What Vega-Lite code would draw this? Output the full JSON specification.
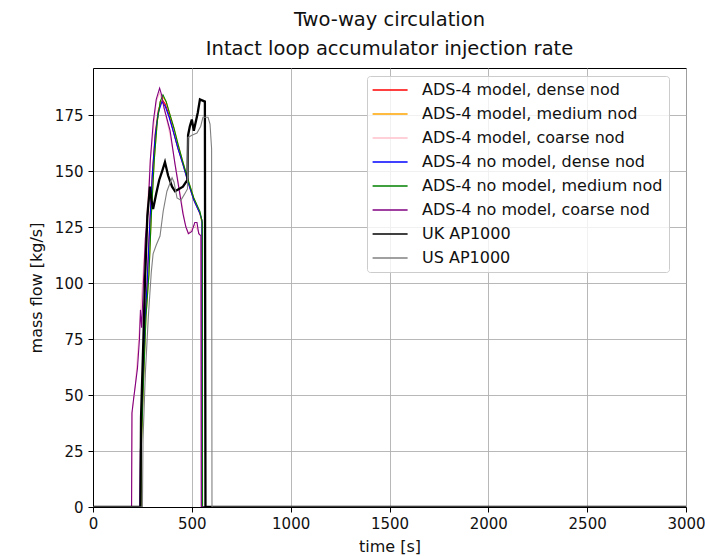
{
  "$schema": "https://vega.github.io/schema/vega-lite/v6.json",
  "autosize": "none",
  "width": 593,
  "height": 439,
  "padding": {"left": 93, "top": 68, "right": 19, "bottom": 49},
  "background": "white",
  "config": {
    "font": "DejaVu Sans",
    "view": {"stroke": "black", "strokeWidth": 1},
    "axis": {"labelFont": "DejaVu Sans", "titleFont": "DejaVu Sans", "labelFontSize": 15, "titleFontSize": 16, "titleFontWeight": "normal", "labelColor": "#111111", "titleColor": "#111111", "domainColor": "black", "tickColor": "black", "tickSize": 5, "gridColor": "#b0b0b0", "gridWidth": 0.9}
  },
  "title": {"text": ["Two-way circulation", "Intact loop accumulator injection rate"], "fontSize": 19.5, "fontWeight": "normal", "font": "DejaVu Sans", "lineHeight": 29, "offset": 9, "anchor": "middle", "color": "#111111"},
  "data": {"values": [
    {"series": "ADS-4 model, dense nod", "time": 0, "flow": 0},
    {"series": "ADS-4 model, dense nod", "time": 238, "flow": 0},
    {"series": "ADS-4 model, dense nod", "time": 240, "flow": 25},
    {"series": "ADS-4 model, dense nod", "time": 250, "flow": 50},
    {"series": "ADS-4 model, dense nod", "time": 262, "flow": 80},
    {"series": "ADS-4 model, dense nod", "time": 273, "flow": 99},
    {"series": "ADS-4 model, dense nod", "time": 285, "flow": 123},
    {"series": "ADS-4 model, dense nod", "time": 300, "flow": 149},
    {"series": "ADS-4 model, dense nod", "time": 315, "flow": 167},
    {"series": "ADS-4 model, dense nod", "time": 330, "flow": 177},
    {"series": "ADS-4 model, dense nod", "time": 349, "flow": 182},
    {"series": "ADS-4 model, dense nod", "time": 365, "flow": 180},
    {"series": "ADS-4 model, dense nod", "time": 385, "flow": 175},
    {"series": "ADS-4 model, dense nod", "time": 405, "flow": 168},
    {"series": "ADS-4 model, dense nod", "time": 430, "flow": 160},
    {"series": "ADS-4 model, dense nod", "time": 455, "flow": 153},
    {"series": "ADS-4 model, dense nod", "time": 481, "flow": 145},
    {"series": "ADS-4 model, dense nod", "time": 510, "flow": 137},
    {"series": "ADS-4 model, dense nod", "time": 541, "flow": 131},
    {"series": "ADS-4 model, dense nod", "time": 551, "flow": 128},
    {"series": "ADS-4 model, dense nod", "time": 552, "flow": 0},
    {"series": "ADS-4 model, dense nod", "time": 3000, "flow": 0},

    {"series": "ADS-4 model, medium nod", "time": 0, "flow": 0},
    {"series": "ADS-4 model, medium nod", "time": 242, "flow": 0},
    {"series": "ADS-4 model, medium nod", "time": 244, "flow": 25},
    {"series": "ADS-4 model, medium nod", "time": 255, "flow": 55},
    {"series": "ADS-4 model, medium nod", "time": 268, "flow": 85},
    {"series": "ADS-4 model, medium nod", "time": 283, "flow": 104},
    {"series": "ADS-4 model, medium nod", "time": 295, "flow": 130},
    {"series": "ADS-4 model, medium nod", "time": 310, "flow": 155},
    {"series": "ADS-4 model, medium nod", "time": 325, "flow": 172},
    {"series": "ADS-4 model, medium nod", "time": 340, "flow": 181},
    {"series": "ADS-4 model, medium nod", "time": 354, "flow": 183},
    {"series": "ADS-4 model, medium nod", "time": 370, "flow": 181},
    {"series": "ADS-4 model, medium nod", "time": 390, "flow": 175},
    {"series": "ADS-4 model, medium nod", "time": 410, "flow": 169},
    {"series": "ADS-4 model, medium nod", "time": 430, "flow": 162},
    {"series": "ADS-4 model, medium nod", "time": 455, "flow": 154},
    {"series": "ADS-4 model, medium nod", "time": 481, "flow": 146},
    {"series": "ADS-4 model, medium nod", "time": 510, "flow": 138},
    {"series": "ADS-4 model, medium nod", "time": 541, "flow": 131},
    {"series": "ADS-4 model, medium nod", "time": 553, "flow": 126},
    {"series": "ADS-4 model, medium nod", "time": 554, "flow": 0},
    {"series": "ADS-4 model, medium nod", "time": 3000, "flow": 0},

    {"series": "ADS-4 model, coarse nod", "time": 0, "flow": 0},
    {"series": "ADS-4 model, coarse nod", "time": 196, "flow": 0},
    {"series": "ADS-4 model, coarse nod", "time": 198, "flow": 42},
    {"series": "ADS-4 model, coarse nod", "time": 215, "flow": 55},
    {"series": "ADS-4 model, coarse nod", "time": 240, "flow": 86},
    {"series": "ADS-4 model, coarse nod", "time": 265, "flow": 120},
    {"series": "ADS-4 model, coarse nod", "time": 290, "flow": 155},
    {"series": "ADS-4 model, coarse nod", "time": 320, "flow": 181},
    {"series": "ADS-4 model, coarse nod", "time": 337, "flow": 185},
    {"series": "ADS-4 model, coarse nod", "time": 360, "flow": 178},
    {"series": "ADS-4 model, coarse nod", "time": 390, "flow": 166},
    {"series": "ADS-4 model, coarse nod", "time": 430, "flow": 146},
    {"series": "ADS-4 model, coarse nod", "time": 465, "flow": 127},
    {"series": "ADS-4 model, coarse nod", "time": 481, "flow": 122},
    {"series": "ADS-4 model, coarse nod", "time": 515, "flow": 126},
    {"series": "ADS-4 model, coarse nod", "time": 545, "flow": 121},
    {"series": "ADS-4 model, coarse nod", "time": 547, "flow": 0},
    {"series": "ADS-4 model, coarse nod", "time": 3000, "flow": 0},

    {"series": "ADS-4 no model, dense nod", "time": 0, "flow": 0},
    {"series": "ADS-4 no model, dense nod", "time": 238, "flow": 0},
    {"series": "ADS-4 no model, dense nod", "time": 240, "flow": 25},
    {"series": "ADS-4 no model, dense nod", "time": 250, "flow": 50},
    {"series": "ADS-4 no model, dense nod", "time": 262, "flow": 80},
    {"series": "ADS-4 no model, dense nod", "time": 273, "flow": 98},
    {"series": "ADS-4 no model, dense nod", "time": 285, "flow": 122},
    {"series": "ADS-4 no model, dense nod", "time": 300, "flow": 148},
    {"series": "ADS-4 no model, dense nod", "time": 315, "flow": 166},
    {"series": "ADS-4 no model, dense nod", "time": 330, "flow": 176},
    {"series": "ADS-4 no model, dense nod", "time": 349, "flow": 181},
    {"series": "ADS-4 no model, dense nod", "time": 365, "flow": 179},
    {"series": "ADS-4 no model, dense nod", "time": 385, "flow": 174},
    {"series": "ADS-4 no model, dense nod", "time": 405, "flow": 168},
    {"series": "ADS-4 no model, dense nod", "time": 430, "flow": 160},
    {"series": "ADS-4 no model, dense nod", "time": 455, "flow": 153},
    {"series": "ADS-4 no model, dense nod", "time": 481, "flow": 145},
    {"series": "ADS-4 no model, dense nod", "time": 510, "flow": 137},
    {"series": "ADS-4 no model, dense nod", "time": 541, "flow": 131},
    {"series": "ADS-4 no model, dense nod", "time": 551, "flow": 128},
    {"series": "ADS-4 no model, dense nod", "time": 552, "flow": 0},
    {"series": "ADS-4 no model, dense nod", "time": 3000, "flow": 0},

    {"series": "ADS-4 no model, medium nod", "time": 0, "flow": 0},
    {"series": "ADS-4 no model, medium nod", "time": 242, "flow": 0},
    {"series": "ADS-4 no model, medium nod", "time": 244, "flow": 25},
    {"series": "ADS-4 no model, medium nod", "time": 255, "flow": 55},
    {"series": "ADS-4 no model, medium nod", "time": 268, "flow": 85},
    {"series": "ADS-4 no model, medium nod", "time": 283, "flow": 104},
    {"series": "ADS-4 no model, medium nod", "time": 295, "flow": 130},
    {"series": "ADS-4 no model, medium nod", "time": 310, "flow": 155},
    {"series": "ADS-4 no model, medium nod", "time": 325, "flow": 172},
    {"series": "ADS-4 no model, medium nod", "time": 340, "flow": 181},
    {"series": "ADS-4 no model, medium nod", "time": 354, "flow": 184},
    {"series": "ADS-4 no model, medium nod", "time": 370, "flow": 181},
    {"series": "ADS-4 no model, medium nod", "time": 390, "flow": 175},
    {"series": "ADS-4 no model, medium nod", "time": 410, "flow": 169},
    {"series": "ADS-4 no model, medium nod", "time": 430, "flow": 162},
    {"series": "ADS-4 no model, medium nod", "time": 455, "flow": 154},
    {"series": "ADS-4 no model, medium nod", "time": 481, "flow": 146},
    {"series": "ADS-4 no model, medium nod", "time": 510, "flow": 138},
    {"series": "ADS-4 no model, medium nod", "time": 541, "flow": 132},
    {"series": "ADS-4 no model, medium nod", "time": 553, "flow": 127},
    {"series": "ADS-4 no model, medium nod", "time": 554, "flow": 0},
    {"series": "ADS-4 no model, medium nod", "time": 3000, "flow": 0},

    {"series": "ADS-4 no model, coarse nod", "time": 0, "flow": 0},
    {"series": "ADS-4 no model, coarse nod", "time": 195, "flow": 0},
    {"series": "ADS-4 no model, coarse nod", "time": 197, "flow": 42},
    {"series": "ADS-4 no model, coarse nod", "time": 205, "flow": 48},
    {"series": "ADS-4 no model, coarse nod", "time": 215, "flow": 55},
    {"series": "ADS-4 no model, coarse nod", "time": 225, "flow": 62},
    {"series": "ADS-4 no model, coarse nod", "time": 235, "flow": 75},
    {"series": "ADS-4 no model, coarse nod", "time": 240, "flow": 88},
    {"series": "ADS-4 no model, coarse nod", "time": 246, "flow": 80},
    {"series": "ADS-4 no model, coarse nod", "time": 255, "flow": 100},
    {"series": "ADS-4 no model, coarse nod", "time": 265, "flow": 120},
    {"series": "ADS-4 no model, coarse nod", "time": 278, "flow": 131},
    {"series": "ADS-4 no model, coarse nod", "time": 290, "flow": 155},
    {"series": "ADS-4 no model, coarse nod", "time": 305, "flow": 172},
    {"series": "ADS-4 no model, coarse nod", "time": 320, "flow": 182},
    {"series": "ADS-4 no model, coarse nod", "time": 337, "flow": 187},
    {"series": "ADS-4 no model, coarse nod", "time": 347, "flow": 184},
    {"series": "ADS-4 no model, coarse nod", "time": 360, "flow": 178},
    {"series": "ADS-4 no model, coarse nod", "time": 375, "flow": 173},
    {"series": "ADS-4 no model, coarse nod", "time": 390, "flow": 168},
    {"series": "ADS-4 no model, coarse nod", "time": 415, "flow": 153},
    {"series": "ADS-4 no model, coarse nod", "time": 435, "flow": 142},
    {"series": "ADS-4 no model, coarse nod", "time": 455, "flow": 131},
    {"series": "ADS-4 no model, coarse nod", "time": 470, "flow": 125},
    {"series": "ADS-4 no model, coarse nod", "time": 483, "flow": 122},
    {"series": "ADS-4 no model, coarse nod", "time": 500, "flow": 123},
    {"series": "ADS-4 no model, coarse nod", "time": 515, "flow": 127},
    {"series": "ADS-4 no model, coarse nod", "time": 526, "flow": 127},
    {"series": "ADS-4 no model, coarse nod", "time": 535, "flow": 122},
    {"series": "ADS-4 no model, coarse nod", "time": 546, "flow": 121},
    {"series": "ADS-4 no model, coarse nod", "time": 548, "flow": 0},
    {"series": "ADS-4 no model, coarse nod", "time": 3000, "flow": 0},

    {"series": "UK AP1000", "time": 0, "flow": 0},
    {"series": "UK AP1000", "time": 240, "flow": 0},
    {"series": "UK AP1000", "time": 243, "flow": 40},
    {"series": "UK AP1000", "time": 255, "flow": 75},
    {"series": "UK AP1000", "time": 263, "flow": 101},
    {"series": "UK AP1000", "time": 275, "flow": 130},
    {"series": "UK AP1000", "time": 288, "flow": 143},
    {"series": "UK AP1000", "time": 296, "flow": 137},
    {"series": "UK AP1000", "time": 304, "flow": 133},
    {"series": "UK AP1000", "time": 320, "flow": 140},
    {"series": "UK AP1000", "time": 335, "flow": 146},
    {"series": "UK AP1000", "time": 350, "flow": 150},
    {"series": "UK AP1000", "time": 364, "flow": 154},
    {"series": "UK AP1000", "time": 380, "flow": 148},
    {"series": "UK AP1000", "time": 400, "flow": 143},
    {"series": "UK AP1000", "time": 415, "flow": 141},
    {"series": "UK AP1000", "time": 435, "flow": 142},
    {"series": "UK AP1000", "time": 455, "flow": 143},
    {"series": "UK AP1000", "time": 470, "flow": 145},
    {"series": "UK AP1000", "time": 478, "flow": 146},
    {"series": "UK AP1000", "time": 481, "flow": 166},
    {"series": "UK AP1000", "time": 490, "flow": 170},
    {"series": "UK AP1000", "time": 500, "flow": 173},
    {"series": "UK AP1000", "time": 510, "flow": 168},
    {"series": "UK AP1000", "time": 520, "flow": 172},
    {"series": "UK AP1000", "time": 530, "flow": 176},
    {"series": "UK AP1000", "time": 541, "flow": 182},
    {"series": "UK AP1000", "time": 566, "flow": 181},
    {"series": "UK AP1000", "time": 569, "flow": 0},
    {"series": "UK AP1000", "time": 3000, "flow": 0},

    {"series": "US AP1000", "time": 0, "flow": 0},
    {"series": "US AP1000", "time": 250, "flow": 0},
    {"series": "US AP1000", "time": 253, "flow": 30},
    {"series": "US AP1000", "time": 265, "flow": 60},
    {"series": "US AP1000", "time": 280, "flow": 85},
    {"series": "US AP1000", "time": 295, "flow": 105},
    {"series": "US AP1000", "time": 304, "flow": 113},
    {"series": "US AP1000", "time": 320, "flow": 117},
    {"series": "US AP1000", "time": 339, "flow": 121},
    {"series": "US AP1000", "time": 355, "flow": 132},
    {"series": "US AP1000", "time": 374, "flow": 141},
    {"series": "US AP1000", "time": 400, "flow": 147},
    {"series": "US AP1000", "time": 410, "flow": 145},
    {"series": "US AP1000", "time": 425, "flow": 138},
    {"series": "US AP1000", "time": 445, "flow": 137},
    {"series": "US AP1000", "time": 465, "flow": 140},
    {"series": "US AP1000", "time": 478, "flow": 142},
    {"series": "US AP1000", "time": 481, "flow": 165},
    {"series": "US AP1000", "time": 500, "flow": 166},
    {"series": "US AP1000", "time": 526, "flow": 167},
    {"series": "US AP1000", "time": 545, "flow": 170},
    {"series": "US AP1000", "time": 556, "flow": 174},
    {"series": "US AP1000", "time": 582, "flow": 174},
    {"series": "US AP1000", "time": 592, "flow": 171},
    {"series": "US AP1000", "time": 600, "flow": 160},
    {"series": "US AP1000", "time": 602, "flow": 0},
    {"series": "US AP1000", "time": 3000, "flow": 0}
  ]},
  "mark": {"type": "line", "clip": true},
  "encoding": {
    "x": {"field": "time", "type": "quantitative", "title": "time [s]",
      "scale": {"domain": [0, 3000], "nice": false, "zero": false},
      "axis": {"values": [0, 500, 1000, 1500, 2000, 2500, 3000], "format": "d", "labelFlush": false, "labelPadding": 4, "titlePadding": 7, "grid": true}},
    "y": {"field": "flow", "type": "quantitative", "title": "mass flow [kg/s]",
      "scale": {"domain": [0, 196], "nice": false},
      "axis": {"values": [0, 25, 50, 75, 100, 125, 150, 175], "format": "d", "labelFlush": false, "labelPadding": 5, "titlePadding": 10, "grid": true}},
    "color": {"field": "series", "type": "nominal", "sort": null,
      "scale": {"domain": ["ADS-4 model, dense nod", "ADS-4 model, medium nod", "ADS-4 model, coarse nod", "ADS-4 no model, dense nod", "ADS-4 no model, medium nod", "ADS-4 no model, coarse nod", "UK AP1000", "US AP1000"],
        "range": ["#ff0000", "#ffa500", "#ffc0cb", "#0000ff", "#008000", "#800080", "#000000", "#808080"]},
      "legend": {"title": null, "orient": "none", "legendX": 274, "legendY": 8, "labelFontSize": 16, "labelFont": "DejaVu Sans", "labelColor": "#111111", "symbolType": "M-1.2,0L3.8,0", "symbolSize": 196, "symbolFillColor": "transparent", "symbolStrokeWidth": 1.5, "labelOffset": 33, "rowPadding": 8, "padding": 6, "fillColor": "rgba(255,255,255,0.8)", "strokeColor": "#cccccc", "cornerRadius": 3, "labelLimit": 400}},
    "strokeWidth": {"condition": {"test": "datum.series === 'UK AP1000'", "value": 2.3}, "value": 1.1}
  }
}
